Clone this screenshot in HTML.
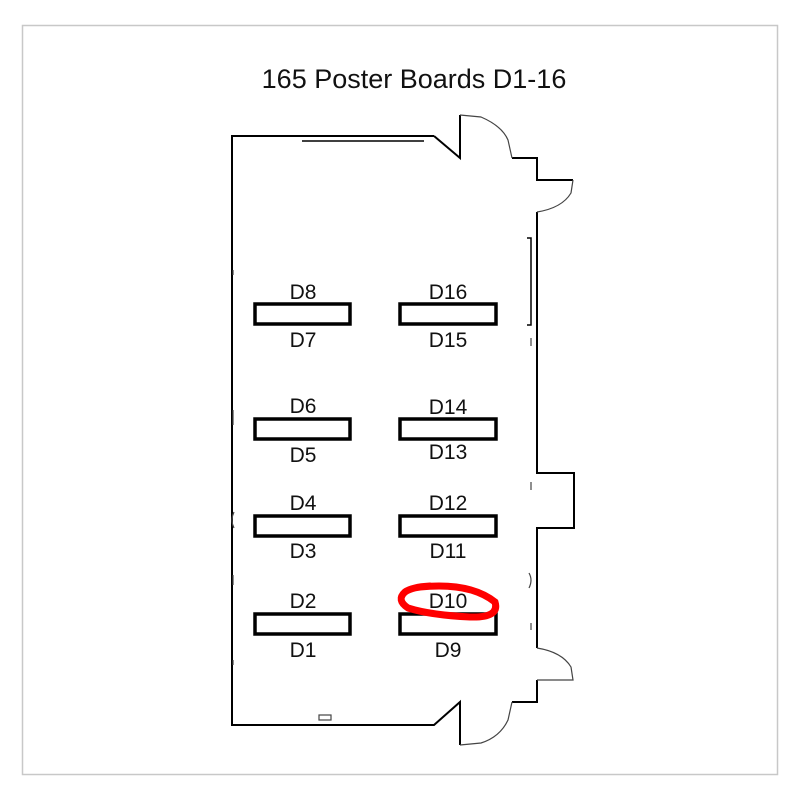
<!DOCTYPE html>
<html><head><style>body{margin:0;background:#fff}</style></head><body>
<svg width="800" height="800" xmlns="http://www.w3.org/2000/svg" font-family="Liberation Sans, sans-serif">
<rect x="0" y="0" width="800" height="800" fill="#fff"/>
<rect x="22.5" y="25.5" width="755" height="749" fill="none" stroke="#c8c8c8" stroke-width="1.5"/>
<text x="414" y="88" font-size="27" text-anchor="middle" fill="#111">165 Poster Boards D1-16</text>
<g fill="none" stroke="#000" stroke-width="2">
<polyline points="434,136 232,136 232,725 434,725 460,702 460,745"/>
<polyline points="434,136 460,158 460,115"/>
<polyline points="512,158 537,158 537,180 573,180"/>
<polyline points="537,212 537,473 574,473 574,528 537,528 537,648"/>
<polyline points="537,680 537,702 512,702"/>
</g>
<g fill="none" stroke="#444" stroke-width="1.2">
<path d="M460,115 L481,117 Q502,126 508,140 L512,158"/>
<path d="M573,180 L571,193 Q562,208 537,212"/>
<path d="M537,648 Q562,652 571,667 L573,680 L537,680"/>
<path d="M512,702 L508,720 Q500,737 481,743 L460,745"/>
<line x1="302" y1="141" x2="424" y2="141" stroke="#000" stroke-width="1.5"/>
<polyline points="527,238 531,238 531,325 527,325" stroke="#000" stroke-width="1.5"/>
<line x1="233" y1="270" x2="233" y2="275"/><line x1="233" y1="410" x2="233" y2="425"/>
<line x1="233" y1="575" x2="233" y2="585"/><line x1="233" y1="660" x2="233" y2="665"/>
<path d="M234,512 Q230,520 234,528"/>
<path d="M529,573 Q533,580 529,588"/>
<line x1="531" y1="338" x2="531" y2="346"/><line x1="531" y1="482" x2="531" y2="490"/><line x1="531" y1="623" x2="531" y2="630"/>
<rect x="319" y="715" width="12" height="5"/>
</g>
<g fill="none" stroke="#000" stroke-width="3.5">
<rect x="255" y="304" width="95" height="20"/><rect x="400" y="304" width="96" height="20"/>
<rect x="255" y="419" width="95" height="20"/><rect x="400" y="419" width="96" height="20"/>
<rect x="255" y="516" width="95" height="20"/><rect x="400" y="516" width="96" height="20"/>
<rect x="255" y="614" width="95" height="20"/><rect x="400" y="614" width="96" height="20"/>
</g>
<g font-size="21" text-anchor="middle" fill="#111">
<text x="303" y="299">D8</text><text x="448" y="299">D16</text>
<text x="303" y="347">D7</text><text x="448" y="347">D15</text>
<text x="303" y="413">D6</text><text x="448" y="414">D14</text>
<text x="303" y="462">D5</text><text x="448" y="459">D13</text>
<text x="303" y="510">D4</text><text x="448" y="510">D12</text>
<text x="303" y="558">D3</text><text x="448" y="558">D11</text>
<text x="303" y="608">D2</text><text x="448" y="608">D10</text>
<text x="303" y="657">D1</text><text x="448" y="657">D9</text>
</g>
<path d="M420,587 Q470,582 495,602 Q500,618 470,617 Q430,615 408,608 Q396,600 405,592 Q412,587 430,586" fill="none" stroke="#f00" stroke-width="7" stroke-linecap="round"/>
</svg>
</body></html>
